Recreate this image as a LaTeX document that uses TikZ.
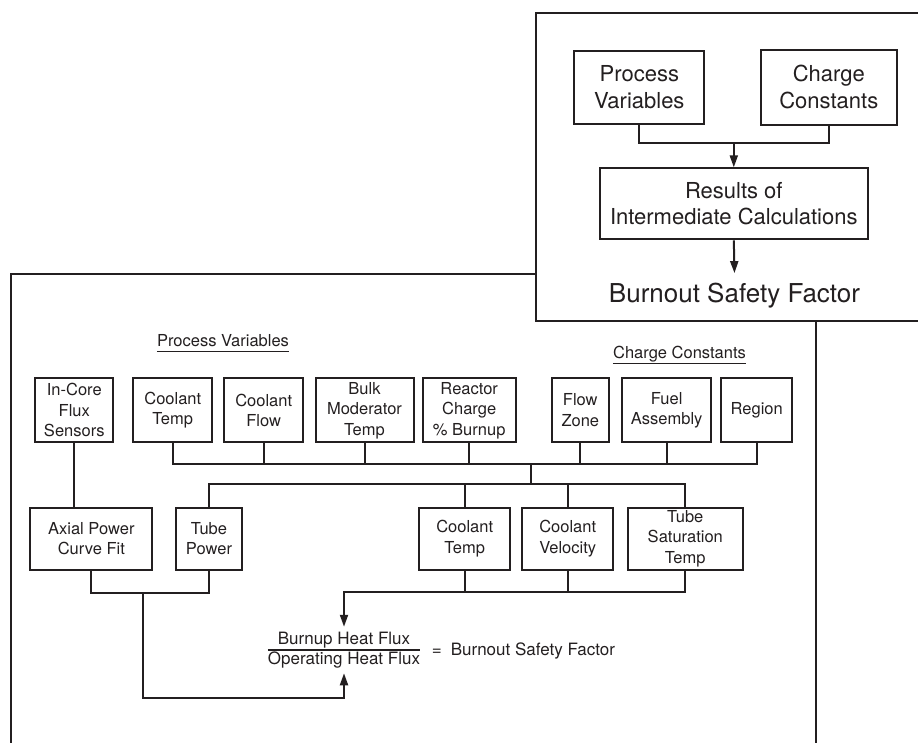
\documentclass[tikz,border=0pt]{standalone}
\usepackage{fontspec}
\setmainfont{TeX Gyre Heros}
\usepackage{tikz}
\usetikzlibrary{arrows.meta,calc}
\definecolor{InkLine}{RGB}{35,31,32}
\tikzset{
  nd_box/.style={rectangle,draw=InkLine,line width=2pt,align=center,inner sep=0pt,text=InkLine,font=\fontsize{16.5}{20.5}\selectfont},
  nd_top/.style={nd_box,font=\fontsize{22}{26.5}\selectfont},
  nd_hdr/.style={inner sep=0pt,text depth=4.5pt,text=InkLine,font=\fontsize{16.5}{20}\selectfont},
  nd_txt/.style={inner sep=0pt,align=center,text=InkLine,font=\fontsize{17}{20}\selectfont},
  wire/.style={draw=InkLine,line width=2pt},
  arr/.style={wire,-{Triangle[length=12pt,width=8pt]}},
}

\begin{document}
\begin{tikzpicture}[x=1pt,y=-1pt]

\useasboundingbox (0,0) rectangle (918,742);
\clip (0,0) rectangle (918,742);

% frames
\draw[wire](11,274.3) rectangle (816,760);
\filldraw[wire,fill=white](536,12.7) rectangle (940,321);

% TOP RIGHT: overview
\node[nd_top,minimum width=130pt,minimum height=73pt]  at (639.3,87)   (tpv){Process\\Variables};
\node[nd_top,minimum width=136pt,minimum height=75pt]  at (828.8,87.2) (tcc){Charge\\Constants};
\node[nd_top,minimum width=268pt,minimum height=71pt]  at (733.8,203.8)(tres){Results of\\Intermediate Calculations};
\node[inner sep=0pt,inner ysep=10pt,anchor=base,text=InkLine,font=\fontsize{26}{30}\selectfont] at (734.5,302.7)(tbsf){Burnout Safety Factor};
\coordinate (tjoin) at (733.8,143.3);

\draw[wire](tpv.south) |- (tjoin);
\draw[wire](tcc.south) |- (tjoin);
\draw[arr](tjoin)--(tres.north);
\draw[arr](tres.south)--(tbsf.north);

% headings
\node[nd_hdr] at (223,342.7)(pvhdr){Process Variables};
\node[nd_hdr] at (679.5,354.8)(cchdr){Charge Constants};
\draw[wire,line width=1.3pt](pvhdr.south west)--(pvhdr.south east);
\draw[wire,line width=1.3pt](cchdr.south west)--(cchdr.south east);

% ROW 1: inputs
\node[nd_box,minimum width=78pt,minimum height=64pt]  at (74.3,410.3) (incore){In-Core\\Flux\\Sensors};
\node[nd_box,minimum width=79pt,minimum height=64pt]  at (172.8,410.3)(ctemp){Coolant\\Temp};
\node[nd_box,minimum width=79pt,minimum height=64pt]  at (263.7,410.3)(cflow){Coolant\\Flow};
\node[nd_box,minimum width=98pt,minimum height=64pt]  at (364.5,410.3)(bulk){Bulk\\Moderator\\Temp};
\node[nd_box,minimum width=93pt,minimum height=64pt]  at (469.2,410.3)(burnup){Reactor\\Charge\\\% Burnup};
\node[nd_box,minimum width=57pt,minimum height=64pt]  at (580.3,410.3)(fzone){Flow\\Zone};
\node[nd_box,minimum width=89pt,minimum height=64pt]  at (666.7,410.3)(fuel){Fuel\\Assembly};
\node[nd_box,minimum width=71pt,minimum height=64pt]  at (756.7,410.3)(region){Region};

% ROW 2: derived values
\node[nd_box,minimum width=122pt,minimum height=62pt] at (91.3,538.5) (axial){Axial Power\\Curve Fit};
\node[nd_box,minimum width=66pt,minimum height=62pt]  at (209,538.5)  (tpower){Tube\\Power};
\node[nd_box,minimum width=91pt,minimum height=62pt]  at (464.7,538.5)(ctemp2){Coolant\\Temp};
\node[nd_box,minimum width=91pt,minimum height=62pt]  at (567.7,538.5)(cvel){Coolant\\Velocity};
\node[nd_box,minimum width=115pt,minimum height=62pt] at (685.3,538.5)(tsat){Tube\\Saturation\\Temp};

% result
\node[nd_txt,inner ysep=5pt] at (344,650)(frac){Burnup Heat Flux\\Operating Heat Flux};
\node[nd_txt,anchor=west] at (431.7,650.7)(bsf){=\hspace{9pt}Burnout Safety Factor};
\draw[wire,line width=1.2pt](frac.west)--(frac.east);

% buses
\coordinate (busA)  at (531,464);
\coordinate (busB)  at (531,484.3);
\coordinate (joinL) at (143.3,593.3);
\coordinate (lowL)  at (143.3,698.3);
\coordinate (joinR) at (344,591.7);

\draw[wire](ctemp.south) |- (busA);
\draw[wire](region.south) |- (busA);
\draw[wire](cflow.south)--(cflow.south |- busA);
\draw[wire](bulk.south)--(bulk.south |- busA);
\draw[wire](burnup.south)--(burnup.south |- busA);
\draw[wire](fzone.south)--(fzone.south |- busA);
\draw[wire](fuel.south)--(fuel.south |- busA);
\draw[wire](busA)--(busB);
\draw[wire](tpower.north) |- (busB);
\draw[wire](tsat.north) |- (busB);
\draw[wire](ctemp2.north)--(ctemp2.north |- busB);
\draw[wire](cvel.north)--(cvel.north |- busB);
\draw[wire](incore.south)--(incore.south |- axial.north);

\draw[wire](axial.south) |- (joinL);
\draw[wire](tpower.south) |- (joinL);
\draw[arr](joinL)--(lowL) -| (frac.south);

\draw[wire](ctemp2.south)--(ctemp2.south |- joinR);
\draw[wire](cvel.south)--(cvel.south |- joinR);
\draw[arr](tsat.south) |- (joinR)--(frac.north);

\end{tikzpicture}
\end{document}
